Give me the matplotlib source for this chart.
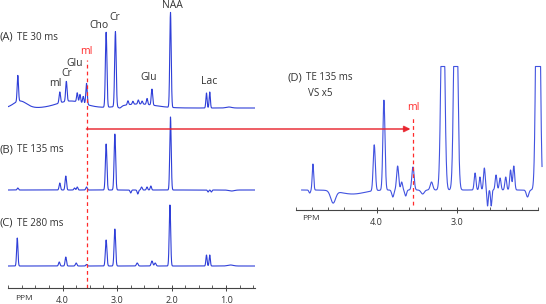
import numpy as np
import matplotlib
matplotlib.use("Agg")
import matplotlib.pyplot as plt
from matplotlib.patches import ConnectionPatch

plt.rcParams['font.family'] = ['Open Sans', 'DejaVu Sans']

# peak tables: centre (ppm), height, width (sigma, ppm)
# left panel heights are in pixels above each trace's baseline
A_ppm = [4.82, 4.78, 3.85, 2.60, 4.05, 3.93, 3.73, 3.68, 3.62, 3.56, 3.20, 3.03,
         2.95, 2.80, 2.71, 2.61, 2.54, 2.45, 2.36, 2.02, 1.36, 1.30, 0.95]
A_h = [26, 7, 7, 4, 11, 20, 9, 8, 7, 21, 75, 75,
       -2, 4, 3, 4, 3, 6, 16, 95, 15, 16, 1]
A_w = [0.012, 0.12, 0.25, 0.3, 0.013, 0.013, 0.012, 0.012, 0.012, 0.013, 0.014, 0.014,
       0.03, 0.012, 0.012, 0.012, 0.012, 0.012, 0.013, 0.013, 0.011, 0.011, 0.05]

B_ppm = [4.82, 4.05, 3.94, 3.78, 3.73, 3.56, 3.20, 3.04, 2.75, 2.62, 2.55,
         2.45, 2.38, 2.02, 1.33, 1.27, 0.9]
B_h = [2, 7, 14, 2, 3, 3, 46, 56, -3, -4, 3,
       3, 4, 73, -2, -2, -1]
B_w = [0.012, 0.013, 0.013, 0.012, 0.012, 0.013, 0.014, 0.014, 0.012, 0.012, 0.012,
       0.012, 0.012, 0.013, 0.011, 0.011, 0.05]

C_ppm = [4.83, 4.06, 3.94, 3.75, 3.56, 3.20, 3.04, 2.63, 2.36, 2.30,
         2.03, 1.36, 1.30, 0.92]
C_h = [28, 4, 9, 3, 1.5, 26, 37, 3, 5, 3,
       61, 11, 11, 1]
C_w = [0.012, 0.013, 0.013, 0.014, 0.013, 0.014, 0.014, 0.015, 0.015, 0.015,
       0.013, 0.011, 0.011, 0.05]

# (D) TE 135 ms, vertical scale x5 (right panel)
D_ppm = [4.83, 4.79, 4.54, 4.30, 4.03, 3.91, 3.80, 3.74, 3.69, 3.64, 3.55, 3.43,
         3.32, 3.18, 3.02, 2.78, 2.72, 2.665, 2.625, 2.58, 2.52, 2.47, 2.40,
         2.34, 2.30, 2.13, 2.00]
D_h = [-3, 26, -12, -4, 46, 90, -7, 24, 8, -6, 23, -4,
       8, 250, 280, 17, 13, 22, -16, -16, 15, 12, 13,
       20, 24, -7, 400]
D_w = [0.01, 0.009, 0.03, 0.15, 0.013, 0.013, 0.013, 0.013, 0.011, 0.011, 0.014, 0.02,
       0.016, 0.021, 0.021, 0.011, 0.01, 0.011, 0.008, 0.008, 0.011, 0.011, 0.011,
       0.011, 0.011, 0.015, 0.021]

baselines = {"A": 180, "B": 98, "C": 22}
D_base = 20
D_clip = 143.5
mI_ppm = 3.56

ppm_left = np.linspace(5.0, 0.47, 3000)
ppm_right = np.linspace(4.93, 1.95, 2000)


def spectrum(ppm, centers, heights, widths, base):
    y = np.full_like(ppm, float(base))
    for c, h, w in zip(centers, heights, widths):
        y += h * np.exp(-0.5 * ((ppm - c) / w) ** 2)
    return y


W, H = 546, 304
fig = plt.figure(figsize=(W / 100, H / 100), dpi=100)
axL = fig.add_axes([8 / W, (H - 288) / H, 247 / W, 288 / H])
axR = fig.add_axes([296 / W, (H - 210) / H, 242 / W, 144 / H])

blue = '#2f3fd8'
red = '#ff2b2b'
txt = '#333333'

for ax in (axL, axR):
    for s in ('top', 'right', 'left'):
        ax.spines[s].set_visible(False)
    ax.spines['bottom'].set_color('#444444')
    ax.spines['bottom'].set_linewidth(0.8)
    ax.set_yticks([])
    ax.patch.set_visible(False)
    ax.tick_params(axis='x', which='major', direction='inout', length=5, width=0.7,
                   colors='#444444', labelsize=6.5, pad=3, labelcolor=txt)
    ax.tick_params(axis='x', which='minor', direction='in', length=2.5, width=0.6,
                   colors='#444444')

# left panel: three echo times
axL.set_xlim(5.0, 0.47)
axL.set_ylim(0, 288)
axL.set_xticks([4.0, 3.0, 2.0, 1.0])
axL.set_xticklabels(['4.0', '3.0', '2.0', '1.0'])
axL.set_xticks(np.arange(0.5, 5.01, 0.25), minor=True)

for key, (c, h, w) in {"A": (A_ppm, A_h, A_w), "B": (B_ppm, B_h, B_w),
                       "C": (C_ppm, C_h, C_w)}.items():
    axL.plot(ppm_left, spectrum(ppm_left, c, h, w, baselines[key]),
             color=blue, lw=0.8)

axL.vlines(mI_ppm, 0, 228, colors=red, lw=0.9, linestyles=(0, (3, 2.5)))
axL.text(mI_ppm, 236, 'mI', color=red, fontsize=7.5, ha='center', va='center')

peak_labels = [('Cho', 3.33, 263), ('Cr', 3.04, 270), ('NAA', 1.99, 283),
               ('Glu', 3.77, 225), ('Cr', 3.92, 215), ('mI', 4.14, 205),
               ('Glu', 2.43, 210), ('Lac', 1.31, 206)]
for s, x, y in peak_labels:
    axL.text(x, y, s, color=txt, fontsize=7.5, ha='center', va='center')

for tag, te, y in [('(A)', 'TE 30 ms', 251), ('(B)', 'TE 135 ms', 138),
                   ('(C)', 'TE 280 ms', 65)]:
    axL.text(5.15, y, tag, color=txt, fontsize=8, ha='left', va='center')
    axL.text(4.84, y, te, color=txt, fontsize=7, ha='left', va='center')
axL.text(4.87, -10, 'PPM', color=txt, fontsize=6, ha='left', va='center')

# right panel: zoom of TE 135 ms
axR.set_xlim(5.0, 2.0)
axR.set_ylim(0, 144)
axR.set_xticks([4.0, 3.0])
axR.set_xticklabels(['4.0', '3.0'])
axR.set_xticks(np.arange(2.0, 5.01, 0.2), minor=True)
yD = np.minimum(spectrum(ppm_right, D_ppm, D_h, D_w, D_base), D_clip)
axR.plot(ppm_right, yD, color='#4253e0', lw=0.8, clip_on=False)
axR.vlines(3.55, 5, 93, colors=red, lw=0.9, linestyles=(0, (3, 2.5)))
axR.text(3.55, 103, 'mI', color=red, fontsize=7.5, ha='center', va='center')
axR.text(5.10, 132, '(D)', color=txt, fontsize=8, ha='left', va='center')
axR.text(4.88, 132, 'TE 135 ms', color=txt, fontsize=7, ha='left', va='center')
axR.text(4.85, 117, 'VS x5', color=txt, fontsize=7, ha='left', va='center')
axR.text(4.93, -8, 'PPM', color=txt, fontsize=6, ha='left', va='center')

arrow = ConnectionPatch(xyA=(mI_ppm, 159), coordsA=axL.transData,
                        xyB=(3.58, 81), coordsB=axR.transData,
                        arrowstyle='-|>', mutation_scale=9, color='#e8202a',
                        lw=1.2, alpha=0.85)
fig.add_artist(arrow)

fig.savefig('out.png', dpi=100)
